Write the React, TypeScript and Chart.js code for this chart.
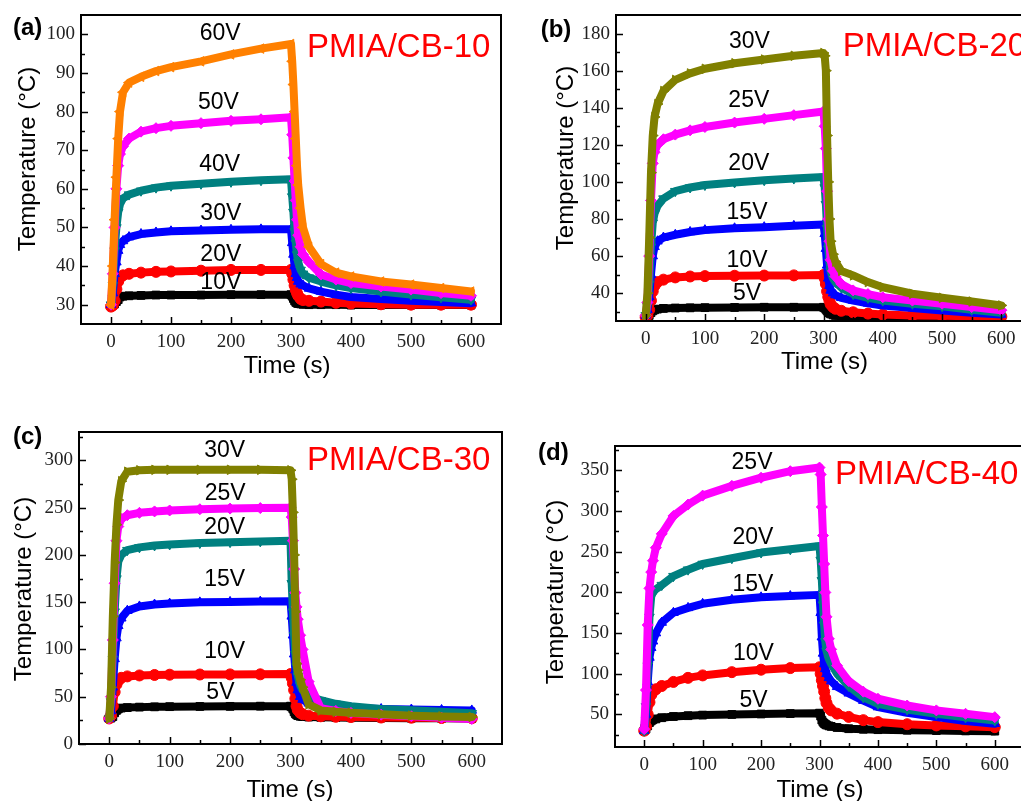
import React, { useEffect, useRef } from "react";
import { Chart, registerables } from "chart.js";

Chart.register(...registerables);

const SANS = '"Liberation Sans", Arial, Helvetica, sans-serif';
const SERIF = '"Liberation Serif", "Times New Roman", serif';

// ---------- data ----------
const TIME_S = [0, 3, 6, 9, 12, 15, 20, 30, 50, 75, 100, 150, 200, 250, 300, 302, 304, 306, 308, 310, 312, 316, 320, 330, 350, 375, 400, 450, 500, 550, 600];

const X_TICKS = [0, 100, 200, 300, 400, 500, 600];
const X_MINOR = [50, 150, 250, 350, 450, 550];

// (a) PMIA/CB-10
const A_10V = [29.8, 29.9, 30.2, 30.8, 31.3, 32, 32.2, 32.3, 32.4, 32.5, 32.5, 32.5, 32.6, 32.6, 32.6, 32.2, 31.6, 31, 30.6, 30.4, 30.3, 30.2, 30.1, 30, 30, 30, 29.9, 29.9, 29.9, 29.9, 29.9];
const A_20V = [29.5, 29.8, 31, 34, 36, 37, 37.6, 38, 38.3, 38.5, 38.6, 38.8, 39, 39, 39, 38, 36.5, 35, 33.8, 33, 32.3, 31.5, 31.2, 31, 30.8, 30.5, 30.3, 30.1, 30, 30, 30];
const A_30V = [30, 33, 38, 41, 44, 45.5, 46.5, 47.5, 48.3, 48.7, 49, 49.2, 49.4, 49.5, 49.5, 46, 43, 40, 38, 37, 36, 35.3, 35, 34.2, 33.4, 32.6, 32, 31.5, 31, 30.7, 30.4];
const A_40V = [30, 35, 44, 50, 54, 56, 57.5, 58.5, 59.5, 60.3, 60.8, 61.3, 61.8, 62.2, 62.5, 58, 54, 49, 46, 43, 41, 39, 38, 37, 36, 35, 34.3, 33.4, 32.6, 31.9, 31.3];
const A_50V = [30, 38, 50, 60, 66, 69, 71, 73, 74.8, 75.7, 76.3, 77, 77.6, 78, 78.5, 74, 68, 62, 57, 52, 48, 45, 43, 41, 37.8, 36.5, 35.6, 34.7, 33.9, 33, 32.3];
const A_60V = [30, 40, 52, 63, 73, 80, 85, 87.5, 89, 90.5, 91.5, 93, 94.8, 96.3, 97.5, 93, 87, 80, 73, 66, 61, 55, 50, 45, 40.5, 38.3, 37.3, 36, 35.2, 34.3, 33.4];
const A_Y_TICKS = [30, 40, 50, 60, 70, 80, 90, 100];
const A_Y_MINOR = [35, 45, 55, 65, 75, 85, 95];
const A_LABELS = ["10V", "20V", "30V", "40V", "50V", "60V"];
const A_LABEL_T = [183, 183, 183, 181, 179, 182];
const A_LABEL_Y = [35.6, 42.9, 53.6, 66.3, 82.2, 100.1];

// (b) PMIA/CB-20
const B_5V = [26.5, 27, 28, 29.5, 30.5, 31, 31.4, 31.8, 32, 32.1, 32.2, 32.3, 32.4, 32.4, 32.4, 32, 31.3, 30.5, 29.8, 29.3, 28.8, 28.3, 28, 27.5, 27, 26.9, 26.8, 26.6, 26.5, 26.3, 26.2];
const B_10V = [27, 28, 31, 36, 41, 44, 46, 47.3, 48.5, 49, 49.2, 49.4, 49.5, 49.6, 49.8, 48, 45, 41, 38, 36, 34, 32.5, 31.6, 30.5, 29.7, 29, 28.5, 28, 27.8, 27.5, 27.4];
const B_15V = [28, 31, 38, 50, 60, 65, 68, 70, 71.5, 73, 74, 75, 75.6, 76.3, 77, 72, 64, 55, 48, 44, 41.5, 40, 39, 37.5, 36, 34.5, 33.4, 32, 30.7, 29.5, 28.5];
const B_20V = [28, 33, 45, 65, 78, 83, 87, 91, 95, 97, 98.3, 99.7, 100.9, 101.8, 102.6, 97, 88, 75, 64, 57, 52, 48, 46, 43, 39.5, 37.5, 36, 34.3, 33, 31, 29.5];
const B_25V = [28, 35, 60, 90, 110, 116, 120, 123, 125.5, 127.8, 129.6, 132, 134, 136, 138, 130, 118, 95, 80, 68, 58, 52, 49, 45, 41.5, 39.5, 37.8, 36, 34.3, 32.5, 30.8];
const B_30V = [28, 40, 70, 105, 125, 135, 142, 149, 155, 158.5, 161, 164, 166, 168, 169.5, 168, 160, 125, 100, 80, 68, 61, 57, 52, 49.6, 46, 43.2, 39.7, 37.5, 35.5, 33.4];
const B_Y_TICKS = [40, 60, 80, 100, 120, 140, 160, 180];
const B_Y_MINOR = [30, 50, 70, 90, 110, 130, 150, 170];
const B_LABELS = ["5V", "10V", "15V", "20V", "25V", "30V"];
const B_LABEL_T = [171, 171, 171, 174, 174, 175];
const B_LABEL_Y = [40, 57.7, 83.4, 109.9, 144, 175.5];

// (c) PMIA/CB-30
const C_5V = [27, 27.5, 29, 33, 35.5, 37, 38, 38.5, 39, 39.3, 39.5, 39.7, 39.8, 40, 40, 39, 37, 34, 32, 31, 30, 29.3, 29, 28.5, 28.2, 28, 27.8, 27.5, 27.3, 27.2, 27];
const C_10V = [27, 30, 40, 55, 63, 67, 70, 71.5, 72.5, 73, 73.3, 73.5, 73.6, 73.7, 74, 70, 64, 57, 48, 40, 36, 33, 31.5, 30, 29.3, 28.8, 28.5, 28, 27.8, 27.5, 27.3];
const C_15V = [27, 35, 60, 90, 112, 125, 133, 141, 145.5, 147.5, 148.5, 149.8, 150.3, 150.6, 151, 135, 115, 95, 78, 65, 57, 50, 47, 43, 40, 38.8, 38, 37, 36.5, 36, 35.5];
const C_20V = [27, 45, 90, 140, 175, 193, 200, 205, 208, 210, 211, 212.5, 213.5, 214.3, 215, 170, 140, 115, 95, 82, 72, 62, 57, 51, 46.3, 42.5, 39.9, 37.1, 35.6, 34, 32.5];
const C_25V = [27, 50, 110, 170, 215, 230, 238, 242, 244.5, 246, 247, 248.3, 249, 249.5, 250, 240, 215, 185, 160, 145, 132, 115, 100, 66, 38, 35, 32.9, 31, 29.3, 27.8, 26.5];
const C_30V = [27, 60, 135, 192, 232, 258, 278, 288, 289.5, 290, 290, 290, 290, 290, 289.5, 280, 245, 200, 140, 85, 78, 68, 60, 42, 35.5, 34, 33, 31.5, 30, 29.2, 28.6];
const C_Y_TICKS = [0, 50, 100, 150, 200, 250, 300];
const C_Y_MINOR = [25, 75, 125, 175, 225, 275, 325];
const C_LABELS = ["5V", "10V", "15V", "20V", "25V", "30V"];
const C_LABEL_T = [184, 191, 191, 191, 192, 191];
const C_LABEL_Y = [54, 98.2, 174.2, 229, 264.4, 310.3];

// (d) PMIA/CB-40
const D_5V = [30, 32, 36, 40, 42, 43.5, 44.5, 46, 47.5, 48.5, 49.2, 50, 50.6, 51.1, 51.6, 48, 43, 40.5, 39, 38, 37, 36, 35.3, 34, 32.5, 31.8, 31.3, 30.6, 30.2, 29.8, 29.5];
const D_10V = [30, 35, 50, 65, 74, 78, 81, 85, 90, 95, 98, 102, 105, 107, 108, 100, 92, 85, 78, 70, 64, 58, 55, 51, 47, 43, 40.6, 38, 36.5, 35.4, 34.4];
const D_15V = [30, 50, 90, 120, 132, 140, 150, 163, 175, 181, 186, 191, 194, 195.5, 197, 175, 145, 125, 112, 106, 100, 95, 91, 84, 76, 67, 59, 52, 46.7, 42, 38.6];
const D_20V = [30, 60, 110, 170, 195, 200, 204, 209, 220, 228, 235, 242, 249, 253, 257, 240, 215, 185, 160, 140, 128, 118, 112, 100, 85, 71, 63, 56, 50.8, 46.5, 42.6];
const D_25V = [32, 80, 160, 205, 225, 239, 255, 272, 294, 308, 319, 331, 341, 349, 353.5, 345, 305, 270, 235, 200, 170, 143, 130, 110, 91, 78, 69.3, 61, 55, 50.8, 46.7];
const D_Y_TICKS = [50, 100, 150, 200, 250, 300, 350];
const D_Y_MINOR = [25, 75, 125, 175, 225, 275, 325, 375];
const D_LABELS = ["5V", "10V", "15V", "20V", "25V"];
const D_LABEL_T = [187, 187, 186, 186, 184.5];
const D_LABEL_Y = [67.2, 125.3, 209.6, 267.7, 359.8];

// ---------- styles ----------
const BLACK = { color: "#000000", style: "rect", rot: 0 };
const RED = { color: "#ff0000", style: "circle", rot: 0 };
const BLUE = { color: "#0000ff", style: "triangle", rot: 0 };
const TEAL = { color: "#008080", style: "triangle", rot: 180 };
const MAGENTA = { color: "#ff00ff", style: "rectRot", rot: 0 };
const ORANGE = { color: "#ff8000", style: "triangle", rot: 270 };
const OLIVE = { color: "#808000", style: "triangle", rot: 90 };

type Sty = { color: string; style: string; rot: number };

type PanelCfg = {
  box: { x: number; y: number; w: number; h: number };
  area: { l: number; t: number; r: number; b: number };
  yMin: number;
  yMax: number;
  yTicks: number[];
  yMinor: number[];
  series: { values: number[]; sty: Sty }[];
  labels: string[];
  labelT: number[];
  labelY: number[];
  letter: string;
  letterPos: [number, number];
  title: string;
  titlePos: [number, number];
  yTitlePos: [number, number];
  xTitlePos: [number, number];
};

const PANELS: PanelCfg[] = [
  {
    box: { x: 0, y: 0, w: 510, h: 395 },
    area: { l: 81, t: 15, r: 501, b: 324 },
    yMin: 25, yMax: 105, yTicks: A_Y_TICKS, yMinor: A_Y_MINOR,
    series: [
      { values: A_10V, sty: BLACK }, { values: A_20V, sty: RED }, { values: A_30V, sty: BLUE },
      { values: A_40V, sty: TEAL }, { values: A_50V, sty: MAGENTA }, { values: A_60V, sty: ORANGE },
    ],
    labels: A_LABELS, labelT: A_LABEL_T, labelY: A_LABEL_Y,
    letter: "(a)", letterPos: [13, 28.5],
    title: "PMIA/CB-10", titlePos: [307, 48],
    yTitlePos: [28, 159], xTitlePos: [287, 373],
  },
  {
    box: { x: 510, y: 0, w: 540, h: 395 },
    area: { l: 106, t: 15, r: 521, b: 321 },
    yMin: 25, yMax: 190, yTicks: B_Y_TICKS, yMinor: B_Y_MINOR,
    series: [
      { values: B_5V, sty: BLACK }, { values: B_10V, sty: RED }, { values: B_15V, sty: BLUE },
      { values: B_20V, sty: TEAL }, { values: B_25V, sty: MAGENTA }, { values: B_30V, sty: OLIVE },
    ],
    labels: B_LABELS, labelT: B_LABEL_T, labelY: B_LABEL_Y,
    letter: "(b)", letterPos: [30.7, 30],
    title: "PMIA/CB-20", titlePos: [332.7, 47],
    yTitlePos: [56, 158], xTitlePos: [314.5, 369],
  },
  {
    box: { x: 0, y: 400, w: 510, h: 401 },
    area: { l: 79, t: 32, r: 502, b: 344 },
    yMin: 0, yMax: 330, yTicks: C_Y_TICKS, yMinor: C_Y_MINOR,
    series: [
      { values: C_5V, sty: BLACK }, { values: C_10V, sty: RED }, { values: C_15V, sty: BLUE },
      { values: C_20V, sty: TEAL }, { values: C_25V, sty: MAGENTA }, { values: C_30V, sty: OLIVE },
    ],
    labels: C_LABELS, labelT: C_LABEL_T, labelY: C_LABEL_Y,
    letter: "(c)", letterPos: [13, 37.7],
    title: "PMIA/CB-30", titlePos: [307, 60.7],
    yTitlePos: [24.5, 189], xTitlePos: [290, 396.7],
  },
  {
    box: { x: 510, y: 400, w: 540, h: 401 },
    area: { l: 105, t: 46, r: 514, b: 347 },
    yMin: 10, yMax: 380, yTicks: D_Y_TICKS, yMinor: D_Y_MINOR,
    series: [
      { values: D_5V, sty: BLACK }, { values: D_10V, sty: RED }, { values: D_15V, sty: BLUE },
      { values: D_20V, sty: TEAL }, { values: D_25V, sty: MAGENTA },
    ],
    labels: D_LABELS, labelT: D_LABEL_T, labelY: D_LABEL_Y,
    letter: "(d)", letterPos: [28, 53.3],
    title: "PMIA/CB-40", titlePos: [325, 75],
    yTitlePos: [46.5, 192], xTitlePos: [310, 396.7],
  },
];

function buildChart(canvas: HTMLCanvasElement, cfg: PanelCfg) {
  const { w, h } = cfg.box;
  const a = cfg.area;
  const n = cfg.series.length;

  const decor = {
    id: "decor",
    afterDraw(chart: any) {
      const ctx = chart.ctx;
      const ca = chart.chartArea;
      const xs = chart.scales.x;
      const ys = chart.scales.y;
      ctx.save();
      // ticks (inward)
      ctx.strokeStyle = "#000";
      ctx.lineWidth = 1.5;
      ctx.beginPath();
      X_TICKS.forEach((v) => {
        const px = Math.round(xs.getPixelForValue(v)) + 0.5;
        ctx.moveTo(px, ca.bottom);
        ctx.lineTo(px, ca.bottom - 7);
      });
      X_MINOR.forEach((v) => {
        const px = Math.round(xs.getPixelForValue(v)) + 0.5;
        ctx.moveTo(px, ca.bottom);
        ctx.lineTo(px, ca.bottom - 4);
      });
      cfg.yTicks.forEach((v) => {
        const py = Math.round(ys.getPixelForValue(v)) + 0.5;
        ctx.moveTo(ca.left, py);
        ctx.lineTo(ca.left + 7, py);
      });
      cfg.yMinor.forEach((v) => {
        const py = Math.round(ys.getPixelForValue(v)) + 0.5;
        ctx.moveTo(ca.left, py);
        ctx.lineTo(ca.left + 4, py);
      });
      ctx.stroke();
      // frame
      ctx.lineWidth = 2;
      ctx.strokeRect(ca.left, ca.top, ca.right - ca.left, ca.bottom - ca.top);

      // voltage labels
      ctx.fillStyle = "#000";
      ctx.font = `23px ${SANS}`;
      ctx.textAlign = "center";
      ctx.textBaseline = "middle";
      cfg.labels.forEach((s, i) => {
        ctx.fillText(s, xs.getPixelForValue(cfg.labelT[i]), ys.getPixelForValue(cfg.labelY[i]));
      });

      // panel letter
      ctx.font = `bold 24px ${SANS}`;
      ctx.textAlign = "left";
      ctx.fillText(cfg.letter, cfg.letterPos[0], cfg.letterPos[1]);

      // title
      ctx.fillStyle = "#ff0000";
      ctx.font = `33px ${SANS}`;
      ctx.fillText(cfg.title, cfg.titlePos[0], cfg.titlePos[1]);

      // axis titles
      ctx.fillStyle = "#000";
      ctx.font = `24px ${SANS}`;
      ctx.textAlign = "center";
      ctx.textBaseline = "alphabetic";
      ctx.fillText("Time (s)", cfg.xTitlePos[0], cfg.xTitlePos[1]);
      ctx.save();
      ctx.translate(cfg.yTitlePos[0], cfg.yTitlePos[1]);
      ctx.rotate(-Math.PI / 2);
      ctx.textBaseline = "middle";
      ctx.fillText("Temperature (\u00B0C)", 0, 0);
      ctx.restore();
      ctx.restore();
    },
  };

  const datasets = cfg.series.map((s, i) => ({
    data: s.values.map((v, k) => ({ x: TIME_S[k], y: v })),
    borderColor: s.sty.color,
    backgroundColor: s.sty.color,
    borderWidth: 8,
    borderJoinStyle: "round",
    borderCapStyle: "round",
    pointStyle: s.sty.style,
    pointRotation: s.sty.rot,
    pointRadius: 5.5,
    pointBorderWidth: 1,
    pointBackgroundColor: s.sty.color,
    pointBorderColor: s.sty.color,
    tension: 0,
    order: n - i,
  }));

  const tickFont = { family: SERIF, size: 19 };

  return new Chart(canvas, {
    type: "line",
    data: { datasets } as any,
    plugins: [decor],
    options: {
      responsive: false,
      animation: false,
      devicePixelRatio: 1,
      layout: { padding: { left: 0, top: a.t, right: w - a.r, bottom: 0 } },
      plugins: { legend: { display: false }, tooltip: { enabled: false } },
      scales: {
        x: {
          type: "linear",
          min: -50,
          max: 650,
          grid: { display: false, drawTicks: false },
          border: { display: false },
          ticks: { font: tickFont, color: "#222", padding: 7, autoSkip: false, maxRotation: 0 },
          afterBuildTicks: (s: any) => {
            s.ticks = X_TICKS.map((v) => ({ value: v }));
          },
          afterFit: (s: any) => {
            s.height = h - a.b;
            s.paddingLeft = 0;
            s.paddingRight = 0;
            s.paddingTop = 0;
            s.paddingBottom = 0;
          },
        },
        y: {
          type: "linear",
          min: cfg.yMin,
          max: cfg.yMax,
          grid: { display: false, drawTicks: false },
          border: { display: false },
          ticks: { font: tickFont, color: "#222", padding: 6, autoSkip: false },
          afterBuildTicks: (s: any) => {
            s.ticks = cfg.yTicks.map((v) => ({ value: v }));
          },
          afterFit: (s: any) => {
            s.width = a.l;
            s.paddingLeft = 0;
            s.paddingRight = 0;
            s.paddingTop = 0;
            s.paddingBottom = 0;
          },
        },
      },
    } as any,
  });
}

function Panel({ cfg }: { cfg: PanelCfg }) {
  const ref = useRef<HTMLCanvasElement | null>(null);
  useEffect(() => {
    if (!ref.current) return;
    const chart = buildChart(ref.current, cfg);
    return () => chart.destroy();
  }, [cfg]);
  return (
    <canvas
      ref={ref}
      width={cfg.box.w}
      height={cfg.box.h}
      style={{ position: "absolute", left: cfg.box.x, top: cfg.box.y, width: cfg.box.w, height: cfg.box.h }}
    />
  );
}

export default function App() {
  return (
    <div
      style={{
        position: "fixed",
        left: 0,
        top: 0,
        width: 1021,
        height: 801,
        overflow: "hidden",
        background: "#ffffff",
      }}
    >
      {PANELS.map((p, i) => (
        <Panel key={i} cfg={p} />
      ))}
    </div>
  );
}
